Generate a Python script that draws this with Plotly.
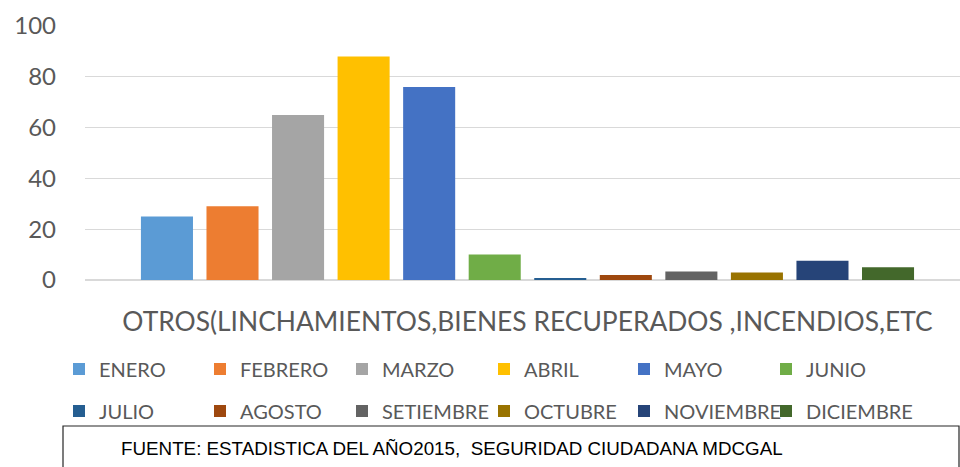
import plotly.graph_objects as go

# ---- data ----
category = ["OTROS(LINCHAMIENTOS,BIENES RECUPERADOS ,INCENDIOS,ETC"]
months = ["ENERO", "FEBRERO", "MARZO", "ABRIL", "MAYO", "JUNIO",
          "JULIO", "AGOSTO", "SETIEMBRE", "OCTUBRE", "NOVIEMBRE", "DICIEMBRE"]
values = [25, 29, 65, 88, 76, 10, 0.5, 2, 3.3, 3, 7.6, 5]
colors = ["#5B9BD5", "#ED7D31", "#A5A5A5", "#FFC000", "#4472C4", "#70AD47",
          "#255E91", "#9E480E", "#636363", "#997300", "#264478", "#43682B"]
y_ticks = [0, 20, 40, 60, 80, 100]
source_text = "FUENTE: ESTADISTICA DEL AÑO2015,  SEGURIDAD CIUDADANA MDCGAL"

W, H = 960, 467
L, R, T, B = 85, 0, 26, 187
PW = W - L - R
PH = H - T - B


def px_x(p):
    return (p - L) / PW


def px_y(p):
    return (H - B - p) / PH


# legend grid (pixel positions of the legend swatches)
legend_cols = [79, 220, 362, 504, 644, 786]
legend_rows = [369, 411]

fig = go.Figure()
legend_layouts = {}
legend_font = dict(family="Lato", size=20, color="#595959")
for i, (m, v, c) in enumerate(zip(months, values, colors)):
    key = "legend" if i == 0 else f"legend{i + 1}"
    fig.add_trace(go.Bar(
        x=category, y=[v], name=m, marker_color=c,
        marker_line_width=0, legend=key,
    ))
    col, row = i % 6, i // 6
    legend_layouts[key] = dict(
        x=px_x(legend_cols[col] - 20), xanchor="left",
        y=px_y(legend_rows[row]), yanchor="middle",
        font=legend_font, bgcolor="rgba(0,0,0,0)",
    )

fig.update_layout(
    width=W, height=H,
    margin=dict(l=L, r=R, t=T, b=B),
    paper_bgcolor="white", plot_bgcolor="white",
    barmode="group", bargap=0.101, bargroupgap=0.206,
    showlegend=True,
    xaxis=dict(range=[-0.5057, 0.4943], showgrid=False, showline=False,
               ticks="", ticklabelstandoff=24,
               tickfont=dict(family="Lato", size=26.4, color="#595959")),
    yaxis=dict(range=[0, 100], tickvals=y_ticks, showgrid=True,
               gridcolor="#D9D9D9", gridwidth=1, zeroline=True,
               zerolinecolor="#D9D9D9", zerolinewidth=1.5, showline=False,
               ticks="", ticklabelstandoff=28,
               tickfont=dict(family="Lato", size=24, color="#595959")),
    shapes=[dict(type="rect", xref="paper", yref="paper",
                 x0=px_x(63), x1=px_x(959), y0=px_y(426), y1=px_y(490),
                 line=dict(color="#262626", width=1.2), fillcolor="rgba(0,0,0,0)")],
    annotations=[dict(text=source_text, xref="paper", yref="paper",
                      x=px_x(119), y=px_y(448), xanchor="left", yanchor="middle",
                      showarrow=False,
                      font=dict(family="Liberation Sans", size=18.8, color="black"))],
    **legend_layouts,
)

fig.write_html(
    "out.html",
    config={"displayModeBar": False},
    post_script="document.body.style.margin='0';"
                "document.documentElement.style.overflow='hidden';",
)
